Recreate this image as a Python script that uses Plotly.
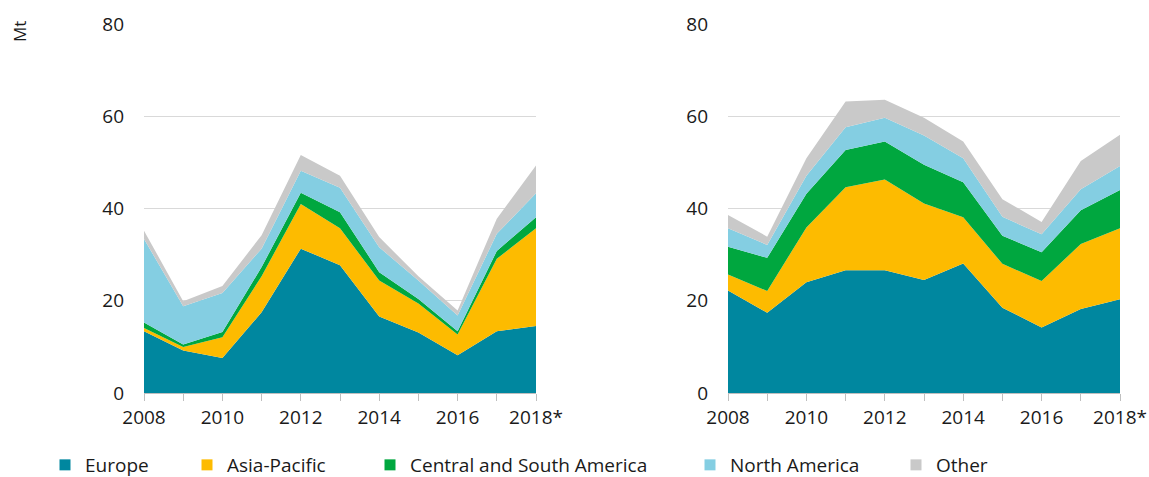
"""
Two stacked-area panels by region, 2008-2018*
"""
import plotly.graph_objects as go

YEARS = list(range(2008, 2019))
TICK_TEXT = ["2008", "", "2010", "", "2012", "", "2014", "", "2016", "", "2018*"]

REGIONS = ["Europe", "Asia-Pacific", "Central and South America", "North America", "Other"]
COLORS = ["#00879F", "#FDBB00", "#00A73F", "#84CEE2", "#C9C9C9"]

# left panel (Mt)
LEFT_EUROPE = [13.4, 9.2, 7.6, 17.5, 31.3, 27.7, 16.6, 13.1, 8.2, 13.4, 14.5]
LEFT_ASIA   = [0.7, 0.8, 4.5, 7.8, 9.7, 8.0, 7.8, 6.3, 4.5, 15.7, 21.2]
LEFT_CSA    = [1.2, 0.5, 1.1, 2.0, 2.4, 3.5, 1.8, 1.0, 0.7, 1.7, 2.4]
LEFT_NA     = [18.1, 8.3, 8.5, 4.0, 4.8, 5.3, 5.4, 4.0, 3.4, 3.7, 5.2]
LEFT_OTHER  = [1.8, 1.1, 1.5, 2.9, 3.4, 2.6, 2.2, 0.9, 1.1, 3.3, 6.0]

# right panel (Mt)
RIGHT_EUROPE = [22.2, 17.4, 24.0, 26.6, 26.6, 24.5, 28.1, 18.5, 14.2, 18.2, 20.3]
RIGHT_ASIA   = [3.5, 4.7, 11.9, 18.0, 19.7, 16.6, 10.0, 9.5, 10.1, 14.1, 15.4]
RIGHT_CSA    = [6.0, 7.2, 7.3, 8.1, 8.2, 8.4, 7.6, 6.1, 6.2, 7.3, 8.3]
RIGHT_NA     = [4.0, 2.8, 3.9, 4.9, 5.2, 6.3, 5.2, 4.1, 3.9, 4.6, 5.2]
RIGHT_OTHER  = [2.9, 1.8, 3.8, 5.6, 3.9, 3.9, 3.6, 3.8, 2.7, 6.1, 6.8]

LEFT = [LEFT_EUROPE, LEFT_ASIA, LEFT_CSA, LEFT_NA, LEFT_OTHER]
RIGHT = [RIGHT_EUROPE, RIGHT_ASIA, RIGHT_CSA, RIGHT_NA, RIGHT_OTHER]

FONT = "Open Sans, sans-serif"
W, H = 1149, 477


def px_x(x):
    return x / W


def px_y(y):
    return 1 - y / H


fig = go.Figure()

for panel, data, xa, ya in [("left", LEFT, "x", "y"), ("right", RIGHT, "x2", "y2")]:
    for name, vals, col in zip(REGIONS, data, COLORS):
        fig.add_trace(go.Scatter(
            x=YEARS, y=vals, name=name, stackgroup=panel, mode="none",
            fillcolor=col, showlegend=False, xaxis=xa, yaxis=ya,
        ))

# legend: one small legend per entry so the spacing matches
LEG_X = [45, 187, 370, 690, 896]
for i, (name, col) in enumerate(zip(REGIONS, COLORS)):
    key = "legend" if i == 0 else f"legend{i + 1}"
    fig.add_trace(go.Scatter(
        x=[None], y=[None], mode="markers", name=name,
        marker=dict(symbol="square", size=11, color=col),
        legend=key, xaxis="x", yaxis="y",
    ))
    fig.layout[key] = dict(
        x=px_x(LEG_X[i]), y=px_y(465), xanchor="left", yanchor="middle",
        orientation="h", bgcolor="rgba(0,0,0,0)",
        font=dict(family=FONT, size=19, color="#1a1a1a"),
    )

xaxis_common = dict(
    range=[2008, 2018], tickvals=YEARS, ticktext=TICK_TEXT,
    showgrid=False, zeroline=False, showline=True, linecolor="#bfbfbf",
    ticks="outside", ticklen=7, tickcolor="#bfbfbf", automargin=False,
    tickfont=dict(family=FONT, size=19, color="#1a1a1a"),
)
yaxis_common = dict(
    range=[0, 80], dtick=20, showgrid=True, gridcolor="#d9d9d9",
    zeroline=False, showline=False, ticks="", ticklabelstandoff=19,
    automargin=False,
    tickfont=dict(family=FONT, size=19, color="#1a1a1a"),
)

y_dom = [px_y(393), px_y(24)]
fig.update_layout(
    width=W, height=H,
    margin=dict(l=0, r=0, t=0, b=0, autoexpand=False),
    paper_bgcolor="white", plot_bgcolor="white",
    font_family=FONT,
    xaxis=dict(domain=[px_x(144), px_x(536)], anchor="y", **xaxis_common),
    yaxis=dict(domain=y_dom, anchor="x", **yaxis_common),
    xaxis2=dict(domain=[px_x(728), px_x(1120)], anchor="y2", **xaxis_common),
    yaxis2=dict(domain=y_dom, anchor="x2", **yaxis_common),
)

fig.add_annotation(
    text="Mt", x=px_x(19), y=px_y(32), xref="paper", yref="paper",
    xanchor="center", yanchor="middle",
    textangle=-90, showarrow=False,
    font=dict(family=FONT, size=17, color="#1a1a1a"),
)

# drop the browser's default 8px body margin so the figure fills the window
fig.write_html(
    "out.html",
    config={"displayModeBar": False},
    post_script="document.body.style.margin='0';",
)
